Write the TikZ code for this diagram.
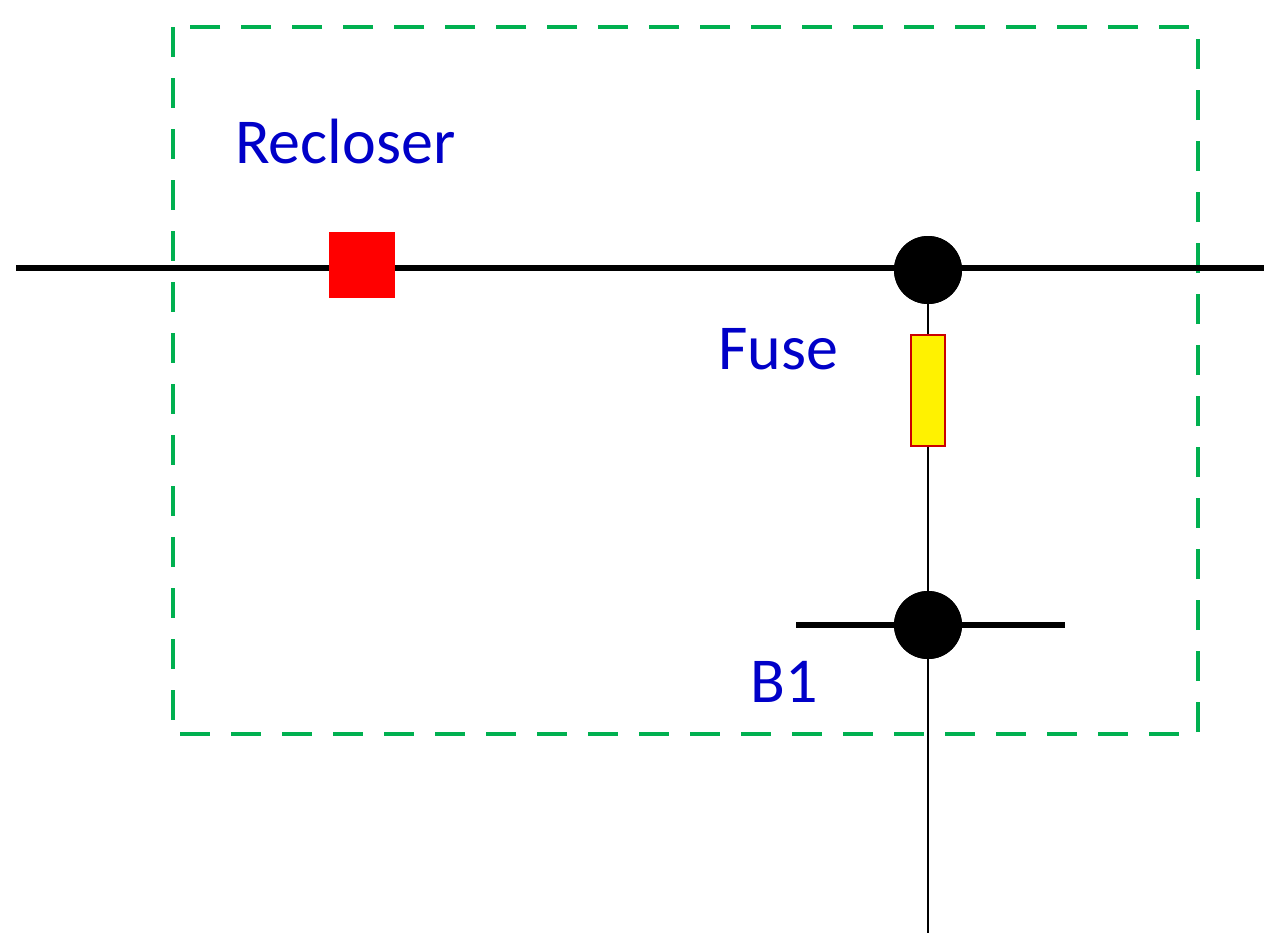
\documentclass[tikz,border=0pt]{standalone}
\usepackage{fontspec}
\setmainfont{Carlito}
\definecolor{gr}{RGB}{0,176,80}
\definecolor{bl}{RGB}{0,0,200}
\begin{document}
\begin{tikzpicture}[x=1pt,y=-1pt,
  lbl/.style={text=bl,font=\fontsize{64}{70}\selectfont,anchor=base west,inner sep=0},
  bus/.style={line width=6pt},
  dot/.style={circle,fill=black,minimum size=68pt,inner sep=0}]
\useasboundingbox (0,0) rectangle (1282,951);
\draw[gr,line width=4pt,dash pattern=on 30pt off 21pt] (173,27) rectangle (1198,734);
\coordinate (L) at (16,268);
\coordinate (R) at (1264,268);
\node[dot] (J) at (928,270) {};
\node[dot] (B) at (928,625) {};
\coordinate (BL) at (796,625);
\coordinate (BR) at (1065,625);
\coordinate (E) at (928,933);
\draw[bus] (L) -- (R);
\draw[bus] (BL) -- (BR);
\draw[line width=1.5pt] (J.center) -- (E);
\node[dot] at (928,270) {};
\node[dot] at (928,625) {};
\node[draw=red!80!black,line width=2pt,fill=yellow,minimum width=34pt,minimum height=111pt,inner sep=0] (F) at (928,390) {};
\node[fill=red,minimum size=66pt,inner sep=0] (RC) at (362,265) {};
\node[lbl] (t1) at (235,163) {Recloser};
\node[lbl] (t2) at (718,369) {Fuse};
\node[lbl] (t3) at (750,702) {B1};
\end{tikzpicture}
\end{document}
